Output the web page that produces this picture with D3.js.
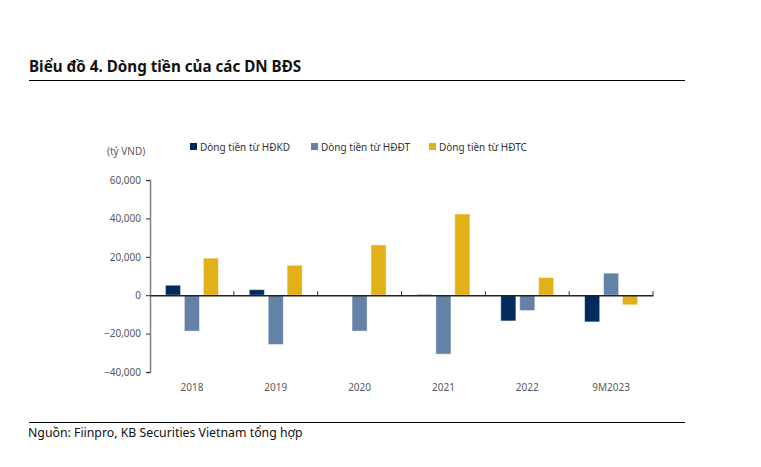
<!DOCTYPE html>
<html><head><meta charset="utf-8">
<script src="https://cdn.jsdelivr.net/npm/d3@7"></script>
<style>
body{margin:0;background:#fff;}
text{font-family:"Noto Sans",sans-serif;}
</style></head>
<body><svg id="c" width="761" height="467"></svg>
<script>
const categories = ["2018","2019","2020","2021","2022","9M2023"];
const seriesNames = ["Dòng tiền từ HĐKD","Dòng tiền từ HĐĐT","Dòng tiền từ HĐTC"];
const hdkd = [5200, 2900, 0, 300, -13400, -13900];
const hddt = [-18700, -25700, -18700, -30700, -8000, 11500];
const hdtc = [19300, 15600, 26200, 42300, 9200, -5000];
const yTicks = [60000, 40000, 20000, 0, -20000, -40000];
const colors = ["#002b5c", "#6482a7", "#e2b118"];

const series = [hdkd, hddt, hdtc];
const svg = d3.select("#c");

// title & frame lines
svg.append("text").attr("x",29).attr("y",72).attr("font-size",15.2).attr("font-weight","bold")
  .attr("fill","#111").text("Biểu đồ 4. Dòng tiền của các DN BĐS");
svg.append("line").attr("x1",29).attr("x2",685).attr("y1",80.5).attr("y2",80.5).attr("stroke","#000").attr("stroke-width",1);
svg.append("line").attr("x1",29).attr("x2",685).attr("y1",422.5).attr("y2",422.5).attr("stroke","#000").attr("stroke-width",1);
svg.append("text").attr("x",28).attr("y",437).attr("font-size",12.3).attr("fill","#111")
  .text("Nguồn: Fiinpro, KB Securities Vietnam tổng hợp");

const x0 = d3.scaleBand().domain(categories).range([150, 653]).paddingInner(0).paddingOuter(0);
const y = d3.scaleLinear().domain([-40000, 60000]).range([372, 180]);
const x1 = d3.scaleBand().domain([0,1,2]).range([0, 53]).paddingInner(0.2);
const groupOffset = (x0.bandwidth() - 53) / 2;

// y axis
const yAxis = d3.axisLeft(y).tickValues(yTicks).tickSize(4).tickFormat(d3.format(","));
const gy = svg.append("g").attr("transform","translate(150,0)").call(yAxis);
gy.select(".domain").attr("stroke","#7f7f7f").attr("stroke-width",1.5);
gy.selectAll(".tick line").attr("stroke","#333");
gy.selectAll(".tick text").attr("fill","#595959").attr("font-size",10).attr("font-family","Noto Sans").attr("dx",-2);

// bars
categories.forEach((c, i) => {
  series.forEach((s, k) => {
    const v = s[i];
    svg.append("rect")
      .attr("x", x0(c) + groupOffset + x1(k))
      .attr("y", y(Math.max(0, v)))
      .attr("width", x1.bandwidth())
      .attr("height", Math.abs(y(v) - y(0)))
      .attr("fill", colors[k])
      .attr("stroke", "#fff").attr("stroke-opacity", 0.5).attr("stroke-width", 1);
  });
});

// x axis
const xAxis = d3.axisBottom(x0).tickSize(0);
const gx = svg.append("g").attr("transform",`translate(0,${y(0)})`).call(xAxis);
gx.select(".domain").attr("stroke","#222").attr("stroke-width",1.5);
gx.selectAll(".tick text").attr("fill","#595959").attr("font-size",10).attr("font-family","Noto Sans").attr("dy", 0).attr("y", 96);
// category boundary ticks (upward)
const bounds = categories.map(c => x0(c) + x0.bandwidth());
svg.append("g").selectAll("line").data(bounds).join("line")
  .attr("x1", d=>d).attr("x2", d=>d).attr("y1", y(0)-4).attr("y2", y(0))
  .attr("stroke","#333").attr("stroke-width",1);

// unit label
svg.append("text").attr("x",107).attr("y",155).attr("font-size",10).attr("fill","#595959").text("(tỷ VND)");

// legend
const legX = [190, 311, 429];
seriesNames.forEach((n, k) => {
  svg.append("rect").attr("x", legX[k]).attr("y", 143).attr("width", 7).attr("height", 7).attr("fill", colors[k]);
  svg.append("text").attr("x", legX[k] + 10).attr("y", 150.5).attr("font-size", 10).attr("fill","#333").text(n);
});
</script></body></html>
